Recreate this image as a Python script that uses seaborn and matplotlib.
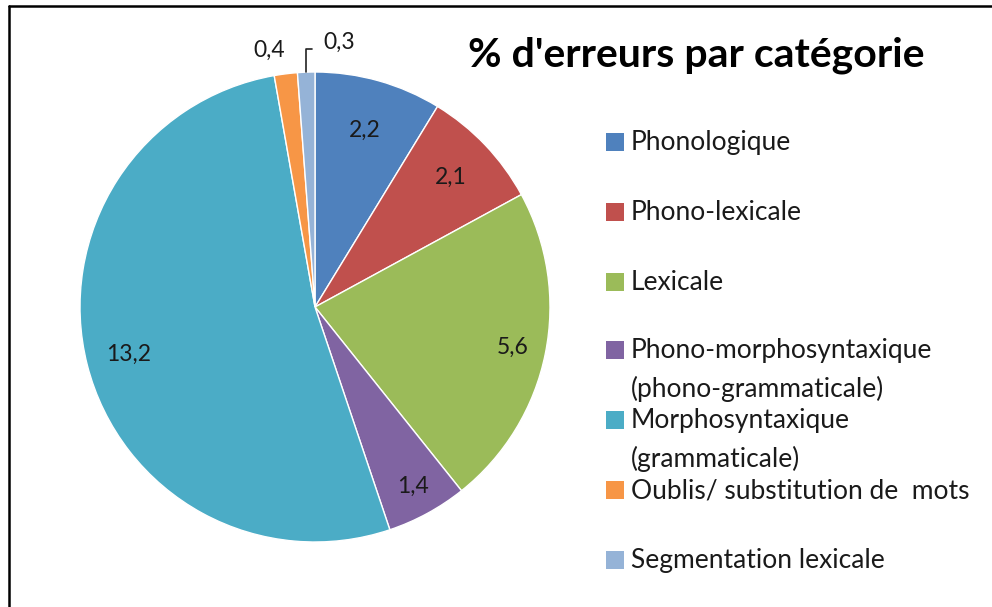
import numpy as np
import matplotlib
matplotlib.use("Agg")
import matplotlib.pyplot as plt
from matplotlib.lines import Line2D
from matplotlib.patches import Rectangle
import seaborn as sns

# data
categories = [
    "Phonologique",
    "Phono-lexicale",
    "Lexicale",
    "Phono-morphosyntaxique\n(phono-grammaticale)",
    "Morphosyntaxique\n(grammaticale)",
    "Oublis/ substitution de  mots",
    "Segmentation lexicale",
]
values = [2.2, 2.1, 5.6, 1.4, 13.2, 0.4, 0.3]
colors = ["#4F81BD", "#C0504D", "#9BBB59", "#8064A2", "#4BACC6", "#F79646", "#95B3D7"]
title = "% d'erreurs par catégorie"

sns.set_theme(style="white")
plt.rcParams["font.family"] = ["Lato", "DejaVu Sans"]

W, H = 992, 607
fig = plt.figure(figsize=(W / 100, H / 100), dpi=100)
fig.patch.set_facecolor("white")

# pie axes: centre (315, 307) px, radius 235 px
cx, cy, r = 315, 307, 235
ax = fig.add_axes([(cx - r) / W, (H - cy - r) / H, 2 * r / W, 2 * r / H])
wedges, _ = ax.pie(
    values,
    colors=sns.color_palette(colors),
    startangle=90,
    counterclock=False,
    radius=1,
    wedgeprops=dict(edgecolor="white", linewidth=1),
)
ax.set_xlim(-1, 1)
ax.set_ylim(-1, 1)
ax.set_aspect("equal")
ax.axis("off")

def fmt(v):
    return f"{v:.1f}".replace(".", ",")

txt_col = "#1a1a1a"
lab_dist = [0.78, 0.80, 0.86, 0.87, 0.82]
for i, (w, v) in enumerate(zip(wedges, values)):
    mid = np.deg2rad((w.theta1 + w.theta2) / 2)
    if i < len(lab_dist):
        d = lab_dist[i]
        ax.text(d * np.cos(mid), d * np.sin(mid), fmt(v), ha="center", va="center",
                fontsize=16.5, color=txt_col)
    elif i == 5:
        ax.text(1.11 * np.cos(mid) + 0.01, 1.11 * np.sin(mid) - 0.01, fmt(v), ha="right",
                va="center", fontsize=16.5, color=txt_col)
    else:
        x0 = np.cos(mid)
        y0 = np.sin(mid)
        ytop = 1.10
        ax.plot([x0, x0, x0 + 0.026], [y0, ytop, ytop], color="#222222", lw=1.2,
                clip_on=False)
        ax.text(x0 + 0.075, ytop - 0.02, fmt(v), ha="left", va="bottom",
                fontsize=16.5, color=txt_col)

# title
fig.text(696 / W, 1 - 55 / H, title, ha="center", va="center", fontsize=29.5,
         fontweight="bold", color="black")

# legend
for i, (lab, col) in enumerate(zip(categories, colors)):
    y = 142 + i * 70 - (2 if i >= 3 else 0)
    fig.patches.append(Rectangle((606 / W, 1 - (y + 9) / H), 18 / W, 18 / H,
                                 transform=fig.transFigure, facecolor=col,
                                 edgecolor="none"))
    fig.text(631 / W, 1 - (y - 12) / H, lab, ha="left", va="top", fontsize=19,
             color=txt_col, linespacing=1.62)

# frame lines (top and left)
fig.add_artist(Line2D([9 / W, 1], [1 - 6 / H, 1 - 6 / H], color="black", lw=1.8,
                      transform=fig.transFigure))
fig.add_artist(Line2D([9 / W, 9 / W], [0, 1 - 6 / H], color="black", lw=1.8,
                      transform=fig.transFigure))

fig.savefig("out.png", dpi=100)
